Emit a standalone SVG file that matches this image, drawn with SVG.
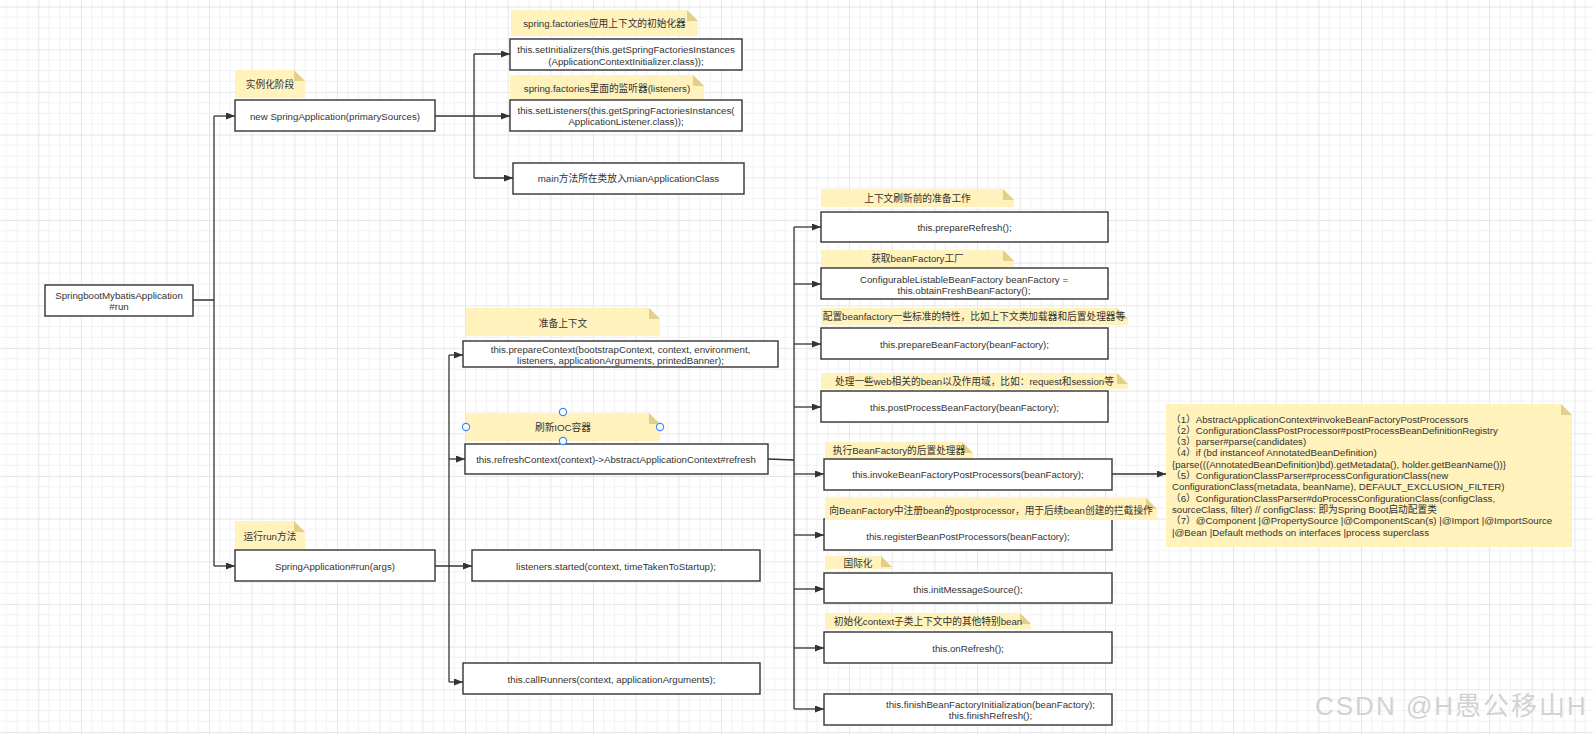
<svg xmlns="http://www.w3.org/2000/svg" width="1593" height="734" viewBox="0 0 1593 734">
<style>
.box{fill:#fff;stroke:#333;stroke-width:1.4}
.note{fill:#fff2bd}
.fold{fill:#e3cf86}
.t{font-family:"Liberation Sans","Noto Sans CJK SC",sans-serif;font-size:9.7px;fill:#333;text-anchor:middle;dominant-baseline:central}
.tl{font-family:"Liberation Sans","Noto Sans CJK SC",sans-serif;font-size:9.7px;fill:#333;dominant-baseline:central}
.c{fill:none;stroke:#333;stroke-width:1.3}
.a{marker-end:url(#arr)}
.h{fill:#fff;stroke:#3d8af7;stroke-width:1.2}
</style>
<defs>
<pattern id="grid" patternUnits="userSpaceOnUse" x="-4.37" y="6.6" width="42.67" height="42.67">
<path d="M10.67,0V42.67M21.33,0V42.67M32,0V42.67M0,10.67H42.67M0,21.33H42.67M0,32H42.67" stroke="#f1f1f1" stroke-width="1" fill="none"/>
<path d="M0.5,0V42.67M0,0.5H42.67" stroke="#e6e6e6" stroke-width="1" fill="none"/>
</pattern>
<marker id="arr" markerUnits="userSpaceOnUse" markerWidth="10" markerHeight="8" refX="9" refY="3.5" orient="auto">
<path d="M0,0L9,3.5L0,7z" fill="#333"/>
</marker>
</defs>
<rect width="1593" height="734" fill="#fff"/>
<rect width="1593" height="734" fill="url(#grid)"/>

<g id="connectors">
<path class="c" d="M193,300H214M214,116V566"/>
<path class="c a" d="M214,116H235"/>
<path class="c a" d="M214,566H235"/>
<path class="c" d="M435,116H474M474,54V178"/>
<path class="c a" d="M474,54H510"/>
<path class="c a" d="M474,116H510"/>
<path class="c a" d="M474,178H513"/>
<path class="c" d="M449,355V682"/>
<path class="c a" d="M449,355H463"/>
<path class="c a" d="M449,459H465"/>
<path class="c a" d="M435,566H472"/>
<path class="c a" d="M449,682H463"/>
<path class="c" d="M768,459L794,460M794,227V709"/>
<path class="c a" d="M794,227H821"/>
<path class="c a" d="M794,284H821"/>
<path class="c a" d="M794,344H821"/>
<path class="c a" d="M794,407H821"/>
<path class="c a" d="M794,474H824"/>
<path class="c a" d="M794,535H824"/>
<path class="c a" d="M794,589H824"/>
<path class="c a" d="M794,648H824"/>
<path class="c a" d="M794,709H824"/>
<path class="c a" d="M1112,474H1166"/>
</g>

<g id="n_main">
<rect class="box" x="45" y="285" width="148" height="31"/>
<text class="t" x="119" y="295.5">SpringbootMybatisApplication</text>
<text class="t" x="119" y="306.5">#run</text>
</g>

<g id="note_inst">
<path class="note" d="M235,70H294L305,81V98H235Z"/><path class="fold" d="M294,70V81H305Z"/>
<text class="t" x="270" y="84.5">实例化阶段</text>
</g>
<g id="n_new">
<rect class="box" x="235" y="100" width="200" height="31"/>
<text class="t" x="335" y="116">new SpringApplication(primarySources)</text>
</g>

<g id="note_init">
<path class="note" d="M511,10H687L698,21V36H511Z"/><path class="fold" d="M687,10V21H698Z"/>
<text class="t" x="604.5" y="23.5">spring.factories应用上下文的初始化器</text>
</g>
<g id="n_setInit">
<rect class="box" x="510" y="39" width="232" height="31"/>
<text class="t" x="626" y="49.5">this.setInitializers(this.getSpringFactoriesInstances</text>
<text class="t" x="626" y="61">(ApplicationContextInitializer.class));</text>
</g>

<g id="note_listeners">
<path class="note" d="M510,75H693L704,86V100H510Z"/><path class="fold" d="M693,75V86H704Z"/>
<text class="t" x="607" y="88">spring.factories里面的监听器(listeners)</text>
</g>
<g id="n_setListeners">
<rect class="box" x="510" y="100" width="232" height="31"/>
<text class="t" x="626" y="110.5">this.setListeners(this.getSpringFactoriesInstances(</text>
<text class="t" x="626" y="121.5">ApplicationListener.class));</text>
</g>

<g id="n_mainClass">
<rect class="box" x="513" y="163" width="231" height="31"/>
<text class="t" x="628.5" y="178.5">main方法所在类放入mianApplicationClass</text>
</g>

<g id="note_prep">
<path class="note" d="M466,308H649L660,319V336H466Z"/><path class="fold" d="M649,308V319H660Z"/>
<text class="t" x="563" y="323">准备上下文</text>
</g>
<g id="n_prepareContext">
<rect class="box" x="463" y="341" width="315" height="26"/>
<text class="t" x="620.5" y="349">this.prepareContext(bootstrapContext, context, environment,</text>
<text class="t" x="620.5" y="360">listeners, applicationArguments, printedBanner);</text>
</g>

<g id="note_refresh">
<path class="note" d="M466,413H649L660,424V441H466Z"/><path class="fold" d="M649,413V424H660Z"/>
<text class="t" x="563" y="427.5">刷新IOC容器</text>
<circle class="h" cx="563" cy="412" r="3.6"/>
<circle class="h" cx="466" cy="427" r="3.6"/>
<circle class="h" cx="660" cy="427" r="3.6"/>
</g>
<g id="n_refreshContext">
<rect class="box" x="465" y="444" width="303" height="30"/>
<text class="t" x="616" y="459">this.refreshContext(context)-&gt;AbstractApplicationContext#refresh</text>
<circle class="h" cx="563" cy="441" r="3.6"/>
</g>

<g id="note_run">
<path class="note" d="M235,521H294L305,532V549H235Z"/><path class="fold" d="M294,521V532H305Z"/>
<text class="t" x="270" y="536">运行run方法</text>
</g>
<g id="n_run">
<rect class="box" x="235" y="550" width="200" height="31"/>
<text class="t" x="335" y="566">SpringApplication#run(args)</text>
</g>

<g id="n_started">
<rect class="box" x="472" y="550" width="288" height="31"/>
<text class="t" x="616" y="566">listeners.started(context, timeTakenToStartup);</text>
</g>

<g id="n_callRunners">
<rect class="box" x="463" y="663" width="297" height="31"/>
<text class="t" x="611.5" y="679">this.callRunners(context, applicationArguments);</text>
</g>

<g id="note_prepRefresh">
<path class="note" d="M821,189H1003L1014,200V207H821Z"/><path class="fold" d="M1003,189V200H1014Z"/>
<text class="t" x="917.5" y="198.5">上下文刷新前的准备工作</text>
</g>
<g id="n_prepareRefresh">
<rect class="box" x="821" y="212" width="287" height="30"/>
<text class="t" x="964.5" y="227.5">this.prepareRefresh();</text>
</g>

<g id="note_obtain">
<path class="note" d="M821,250H1003L1014,261V267H821Z"/><path class="fold" d="M1003,250V261H1014Z"/>
<text class="t" x="917.5" y="258.5">获取beanFactory工厂</text>
</g>
<g id="n_obtain">
<rect class="box" x="821" y="268" width="287" height="31"/>
<text class="t" x="964" y="279">ConfigurableListableBeanFactory beanFactory =</text>
<text class="t" x="964" y="290">this.obtainFreshBeanFactory();</text>
</g>

<g id="note_prepareBF">
<path class="note" d="M821,308H1117L1128,319V325H821Z"/><path class="fold" d="M1117,308V319H1128Z"/>
<text class="t" x="974" y="316.5">配置beanfactory一些标准的特性，比如上下文类加载器和后置处理器等</text>
</g>
<g id="n_prepareBF">
<rect class="box" x="821" y="328" width="287" height="31"/>
<text class="t" x="964.5" y="344">this.prepareBeanFactory(beanFactory);</text>
</g>

<g id="note_postProcess">
<path class="note" d="M821,373H1117L1128,384V389H821Z"/><path class="fold" d="M1117,373V384H1128Z"/>
<text class="t" x="974.5" y="381.5">处理一些web相关的bean以及作用域，比如：request和session等</text>
</g>
<g id="n_postProcessBF">
<rect class="box" x="821" y="391" width="287" height="31"/>
<text class="t" x="964.5" y="407">this.postProcessBeanFactory(beanFactory);</text>
</g>

<g id="note_invoke">
<path class="note" d="M825,442H962L973,453V459H825Z"/><path class="fold" d="M962,442V453H973Z"/>
<text class="t" x="899" y="450.5">执行BeanFactory的后置处理器</text>
</g>
<g id="n_invokeBFPP">
<rect class="box" x="824" y="459" width="288" height="31"/>
<text class="t" x="968" y="474.5">this.invokeBeanFactoryPostProcessors(beanFactory);</text>
</g>

<g id="n_registerBPP">
<rect class="box" x="824" y="519" width="288" height="31"/>
<text class="t" x="968" y="536">this.registerBeanPostProcessors(beanFactory);</text>
</g>
<g id="note_register">
<path class="note" d="M825,498H1146L1157,509V520H825Z"/><path class="fold" d="M1146,498V509H1157Z"/>
<text class="t" x="991" y="510">向BeanFactory中注册bean的postprocessor，用于后续bean创建的拦截操作</text>
</g>

<g id="note_i18n">
<path class="note" d="M825,556H881L892,567V569H825Z"/><path class="fold" d="M881,556V567H892Z"/>
<text class="t" x="858" y="563">国际化</text>
</g>
<g id="n_initMessageSource">
<rect class="box" x="824" y="573" width="288" height="30"/>
<text class="t" x="968" y="589">this.initMessageSource();</text>
</g>

<g id="note_onRefresh">
<path class="note" d="M825,613H1020L1031,624V629H825Z"/><path class="fold" d="M1020,613V624H1031Z"/>
<text class="t" x="928" y="621.5">初始化context子类上下文中的其他特别bean</text>
</g>
<g id="n_onRefresh">
<rect class="box" x="824" y="632" width="288" height="31"/>
<text class="t" x="968" y="648">this.onRefresh();</text>
</g>

<g id="n_finish">
<rect class="box" x="824" y="694" width="288" height="31"/>
<text class="t" x="990.5" y="704">this.finishBeanFactoryInitialization(beanFactory);</text>
<text class="t" x="990.5" y="715.5">this.finishRefresh();</text>
</g>

<g id="note_detail">
<path class="note" d="M1166,404H1561L1572,415V547H1166Z"/><path class="fold" d="M1561,404V415H1572Z"/>
<text class="tl" x="1171" y="419">（1）AbstractApplicationContext#invokeBeanFactoryPostProcessors</text>
<text class="tl" x="1171" y="430.3">（2）ConfigurationClassPostProcessor#postProcessBeanDefinitionRegistry</text>
<text class="tl" x="1171" y="441.6">（3）parser#parse(candidates)</text>
<text class="tl" x="1171" y="452.9">（4）if (bd instanceof AnnotatedBeanDefinition)</text>
<text class="tl" x="1172" y="464.2">{parse(((AnnotatedBeanDefinition)bd).getMetadata(), holder.getBeanName())}</text>
<text class="tl" x="1171" y="475.5">（5）ConfigurationClassParser#processConfigurationClass(new</text>
<text class="tl" x="1172" y="486.8">ConfigurationClass(metadata, beanName), DEFAULT_EXCLUSION_FILTER)</text>
<text class="tl" x="1171" y="498.1">（6）ConfigurationClassParser#doProcessConfigurationClass(configClass,</text>
<text class="tl" x="1172" y="509.4">sourceClass, filter) // configClass: 即为Spring Boot启动配置类</text>
<text class="tl" x="1171" y="520.7">（7）@Component |@PropertySource |@ComponentScan(s) |@Import |@ImportSource</text>
<text class="tl" x="1172" y="532">|@Bean |Default methods on interfaces |process superclass</text>
</g>

<text x="1315" y="715" font-family="Liberation Sans, Noto Sans CJK SC, sans-serif" font-size="26" fill="#d2d2d2" letter-spacing="2">CSDN @H愚公移山H</text>
</svg>
